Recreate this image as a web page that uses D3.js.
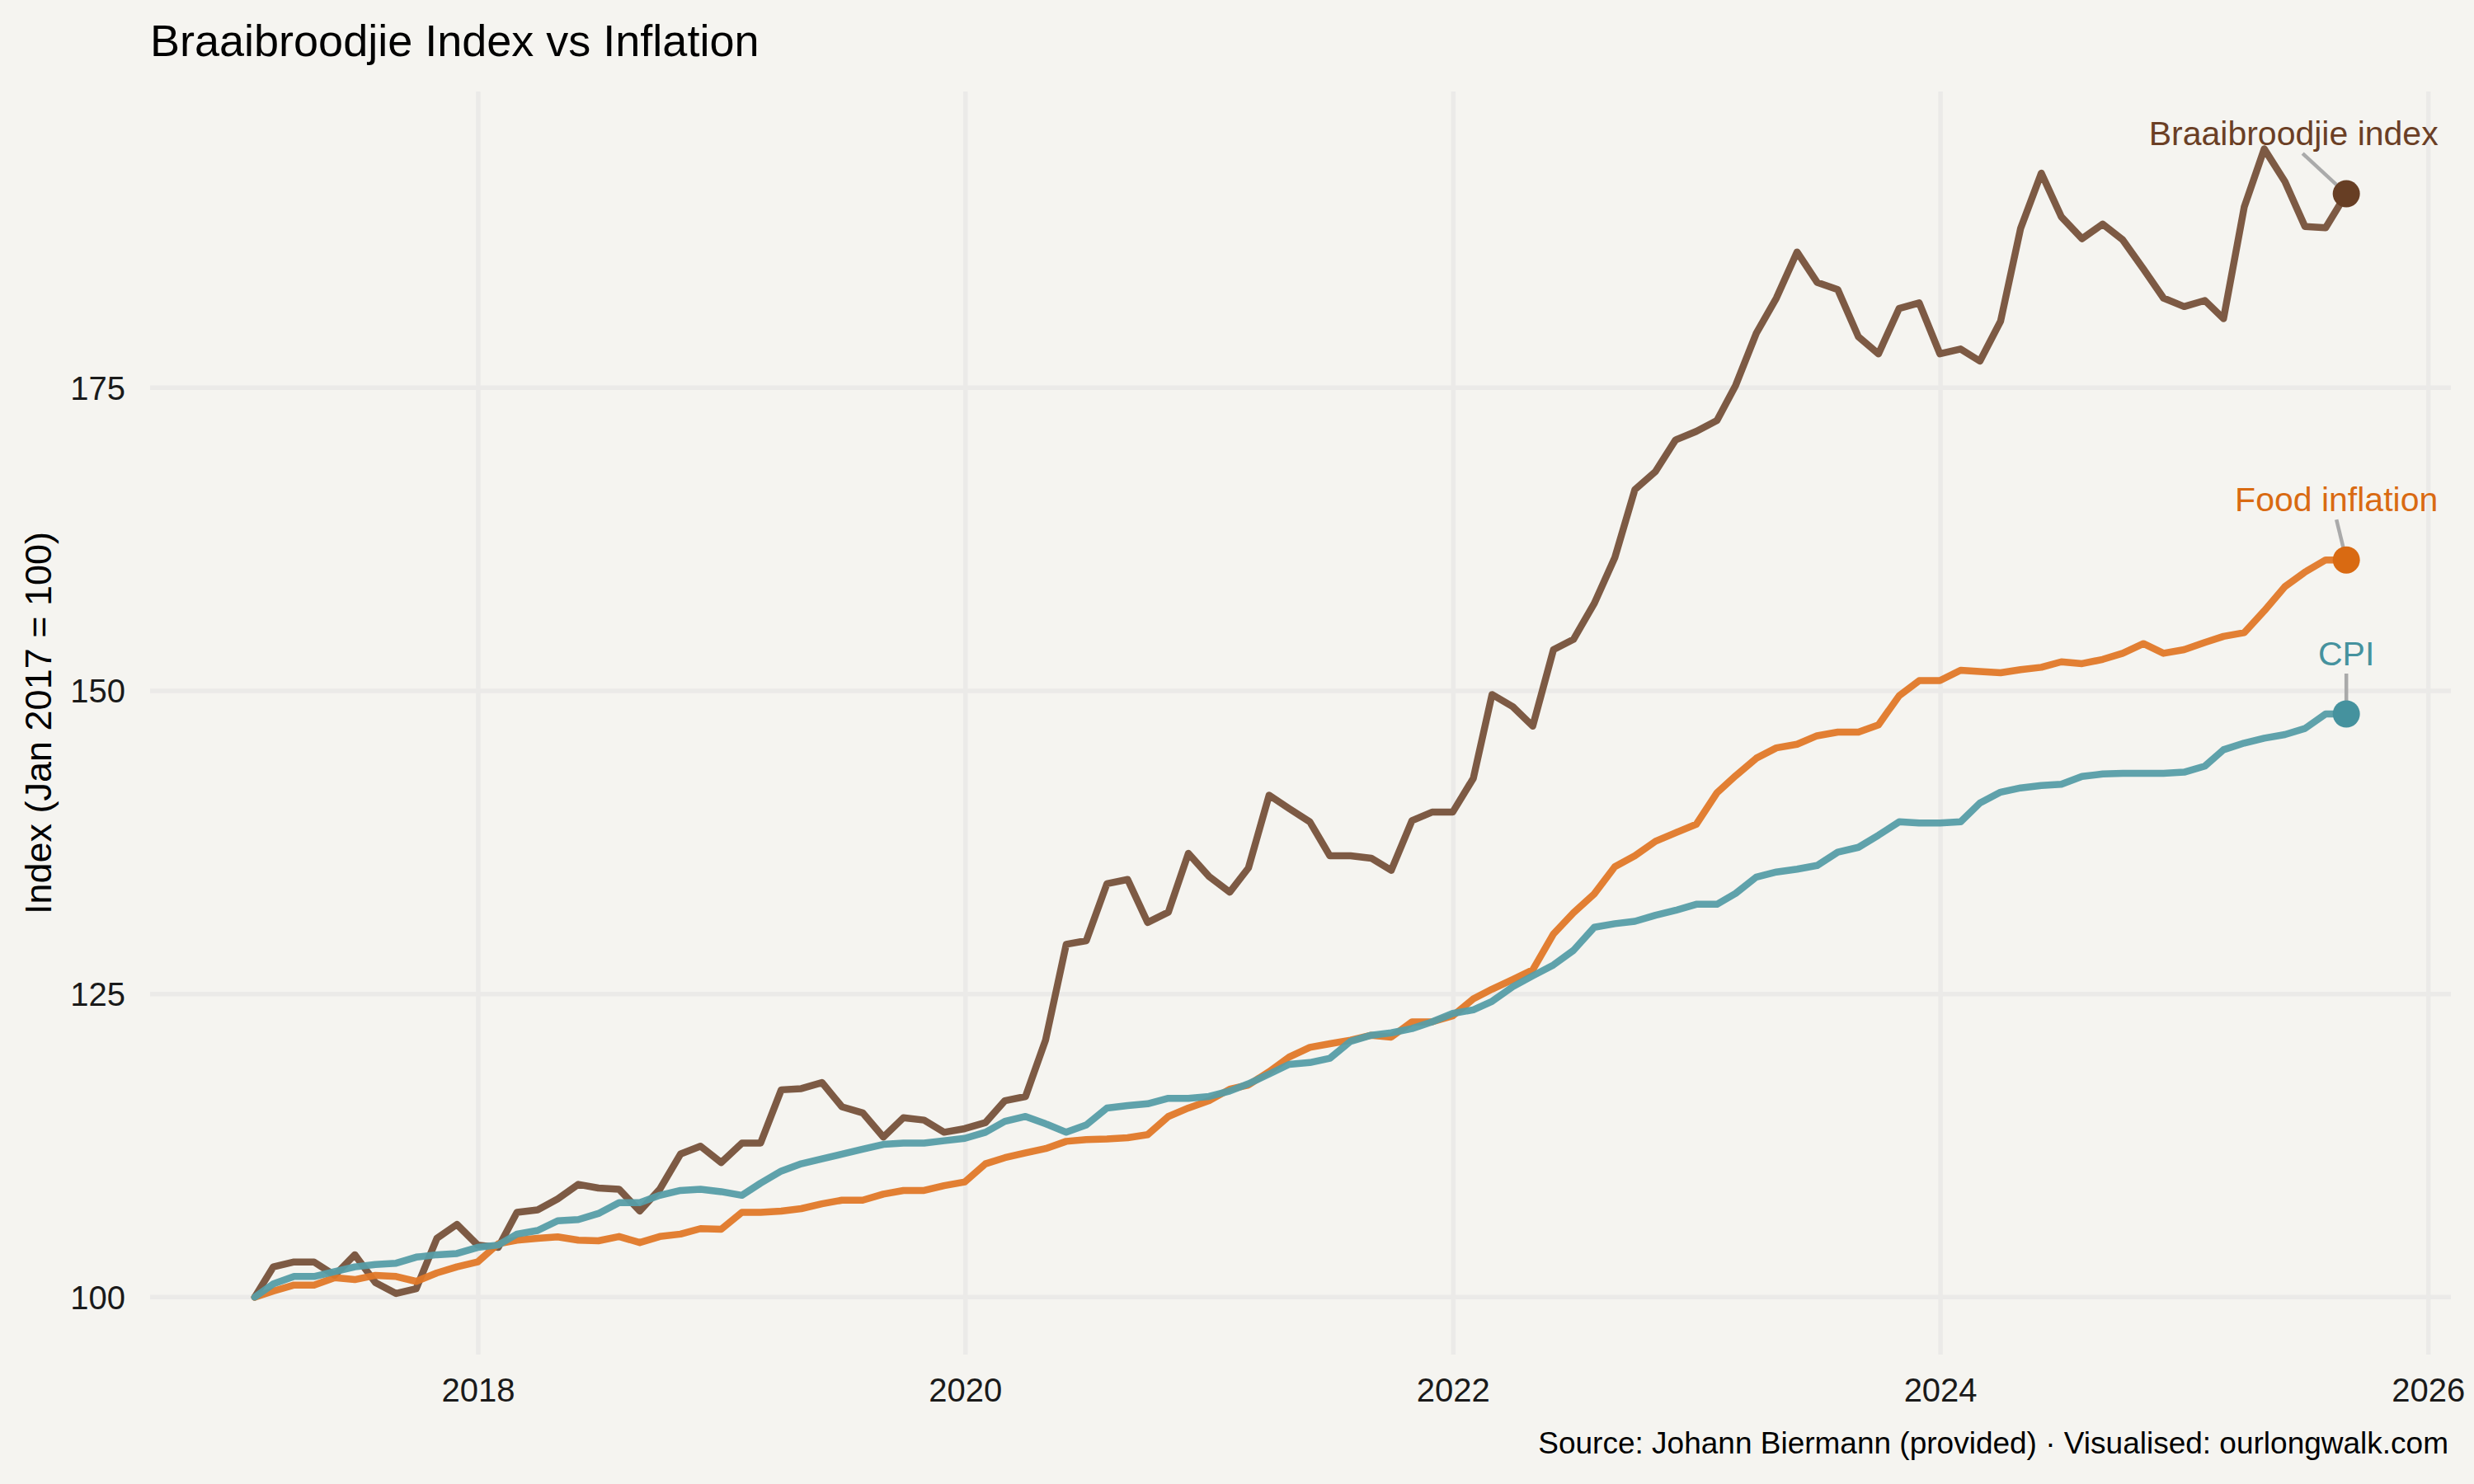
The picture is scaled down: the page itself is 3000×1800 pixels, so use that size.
<!DOCTYPE html>
<head>
  <meta charset="utf-8">
  <script src="https://d3js.org/d3.v7.min.js"></script>
  <style>
    html, body { margin: 0; padding: 0; background: #f5f4f0; }
    text { font-family: 'Liberation Sans', Arial, sans-serif; }
    .title { font-size: 54px; fill: #000; }
    .tick-label { font-size: 40px; fill: #1a1a1a; }
    .axis-title { font-size: 45px; fill: #000; }
    .caption { font-size: 37px; fill: #000; }
    .end-label { font-size: 41px; }
    .grid line { stroke: #ebeae8; stroke-width: 5.5px; }
  </style>
</head>
<body>
<div id="chart"></div>
<script>

////////////////////////////// Data //////////////////////////////

// monthly observations, Jan 2017 .. Aug 2025 (plotted at month end)
const firstMonth = new Date(2017, 0, 1);
const lastMonth = new Date(2025, 7, 1);

const braaiIndex = [
  100.0, 102.5, 102.9, 102.9, 101.8, 103.5, 101.2, 100.3, 100.7, 104.85, 106.0, 104.3,
  104.1, 107.0, 107.2, 108.1, 109.3, 109.0, 108.9, 107.1, 108.9, 111.8, 112.45, 111.1,
  112.7, 112.7, 117.1, 117.2, 117.7, 115.7, 115.2, 113.2, 114.8, 114.6, 113.6, 113.9,
  114.4, 116.2, 116.55, 121.2, 129.1, 129.4, 134.1, 134.45, 130.9, 131.75, 136.6, 134.7,
  133.4, 135.4, 141.4, 140.3, 139.2, 136.4, 136.4, 136.2, 135.2, 139.3, 140.0, 140.0,
  142.8, 149.7, 148.7, 147.1, 153.4, 154.25, 157.2, 161.0, 166.6, 168.1, 170.7, 171.4,
  172.3, 175.2, 179.5, 182.4, 186.2, 183.7, 183.1, 179.2, 177.8, 181.55, 182.0, 177.8,
  178.2, 177.2, 180.5, 188.15, 192.7, 189.1, 187.3, 188.5, 187.2, 184.8, 182.4, 181.7,
  182.2, 180.7, 189.9, 194.7, 192.0, 188.3, 188.2, 191.0
];

const foodInflation = [
  100.0, 100.5, 101.0, 101.0, 101.6, 101.45, 101.8, 101.7, 101.3, 102.0, 102.5, 102.9,
  104.4, 104.7, 104.85, 104.97, 104.7, 104.65, 105.0, 104.5, 105.0, 105.2, 105.65, 105.6,
  107.0, 107.0, 107.1, 107.3, 107.7, 108.0, 108.0, 108.5, 108.8, 108.8, 109.2, 109.5,
  111.0, 111.5, 111.9, 112.25, 112.85, 113.0, 113.05, 113.15, 113.4, 114.9, 115.6, 116.2,
  117.15, 117.5, 118.6, 119.8, 120.6, 120.9, 121.2, 121.6, 121.45, 122.7, 122.7, 123.2,
  124.6, 125.4, 126.2, 127.0, 129.95, 131.7, 133.25, 135.5, 136.4, 137.6, 138.3, 139.0,
  141.6, 143.0, 144.45, 145.3, 145.6, 146.3, 146.6, 146.6, 147.2, 149.6, 150.85, 150.85,
  151.7, 151.6, 151.5, 151.75, 151.95, 152.4, 152.25, 152.6, 153.1, 153.9, 153.1, 153.4,
  154.0, 154.5, 154.8, 156.6, 158.6, 159.8, 160.8, 160.8
];

const cpi = [
  100.0, 101.1, 101.7, 101.7, 102.1, 102.5, 102.7, 102.8, 103.3, 103.5, 103.6, 104.1,
  104.3, 105.2, 105.5, 106.3, 106.4, 106.9, 107.8, 107.8, 108.4, 108.8, 108.9, 108.7,
  108.4, 109.4, 110.4, 111.0, 111.4, 111.8, 112.2, 112.6, 112.7, 112.7, 112.9, 113.1,
  113.6, 114.5, 114.9, 114.3, 113.6, 114.2, 115.6, 115.8, 115.95, 116.4, 116.4, 116.55,
  117.0, 117.6, 118.4, 119.2, 119.35, 119.7, 121.1, 121.6, 121.8, 122.15, 122.7, 123.4,
  123.7, 124.4, 125.6, 126.5, 127.4, 128.6, 130.5, 130.8, 131.0, 131.5, 131.9, 132.4,
  132.4, 133.3, 134.65, 135.06, 135.3, 135.6, 136.7, 137.1, 138.1, 139.2, 139.1, 139.1,
  139.2, 140.75, 141.65, 142.0, 142.2, 142.3, 142.95, 143.15, 143.2, 143.2, 143.2, 143.3,
  143.8, 145.15, 145.7, 146.1, 146.4, 146.9, 148.1, 148.1
];

const seriesNames = ["Braaibroodjie index", "Food inflation", "CPI"];
const yTicks = [100, 125, 150, 175];
const xTickYears = [2018, 2020, 2022, 2024, 2026];

////////////////////////////// Setup //////////////////////////////

const W = 3000, H = 1800;
const panel = { left: 182, right: 2972, top: 111, bottom: 1643 };

const dates = d3.timeMonth.range(firstMonth, d3.timeMonth.offset(lastMonth, 1))
  .map(d => new Date(d.getFullYear(), d.getMonth() + 1, 0));

const series = [
  { name: seriesNames[0], values: braaiIndex,   line: "#76513a", dot: "#673e24", label: "#6b3f25" },
  { name: seriesNames[1], values: foodInflation, line: "#e07828", dot: "#d96a12", label: "#d96a12" },
  { name: seriesNames[2], values: cpi,          line: "#569da7", dot: "#45929e", label: "#45929e" }
];

// ggplot-like 5% expansion
const tExt = d3.extent(dates);
const tPad = (tExt[1] - tExt[0]) * 0.05;
const allVals = braaiIndex.concat(foodInflation, cpi);
const vExt = d3.extent(allVals);
const vPad = (vExt[1] - vExt[0]) * 0.05;

const x = d3.scaleTime()
  .domain([new Date(+tExt[0] - tPad), new Date(+tExt[1] + tPad)])
  .range([panel.left, panel.right]);

const y = d3.scaleLinear()
  .domain([vExt[0] - vPad, vExt[1] + vPad])
  .range([panel.bottom, panel.top]);

const svg = d3.select("#chart").append("svg")
  .attr("width", W)
  .attr("height", H);

svg.append("rect").attr("width", W).attr("height", H).attr("fill", "#f5f4f0");

////////////////////////////// Grid //////////////////////////////

const grid = svg.append("g").attr("class", "grid");

grid.selectAll(".hgrid")
  .data(yTicks)
  .enter().append("line")
  .attr("x1", panel.left).attr("x2", panel.right)
  .attr("y1", d => y(d)).attr("y2", d => y(d));

grid.selectAll(".vgrid")
  .data(xTickYears)
  .enter().append("line")
  .attr("x1", d => x(new Date(d, 0, 1))).attr("x2", d => x(new Date(d, 0, 1)))
  .attr("y1", panel.top).attr("y2", panel.bottom);

svg.selectAll(".ylab")
  .data(yTicks)
  .enter().append("text")
  .attr("class", "tick-label")
  .attr("x", 152)
  .attr("y", d => y(d))
  .attr("dy", "0.36em")
  .attr("text-anchor", "end")
  .text(d => d);

svg.selectAll(".xlab")
  .data(xTickYears)
  .enter().append("text")
  .attr("class", "tick-label")
  .attr("x", d => x(new Date(d, 0, 1)))
  .attr("y", 1700)
  .attr("text-anchor", "middle")
  .text(d => d);

////////////////////////////// Lines //////////////////////////////

const line = d3.line()
  .x((d, i) => x(dates[i]))
  .y(d => y(d));

svg.selectAll(".series")
  .data(series)
  .enter().append("path")
  .attr("d", d => line(d.values))
  .attr("fill", "none")
  .attr("stroke", d => d.line)
  .attr("stroke-width", 8.5)
  .attr("stroke-opacity", 0.95)
  .attr("stroke-linejoin", "round")
  .attr("stroke-linecap", "round");

// end labels (repel-style offsets from the last point)
const labelOffsets = [
  { tx: -64, ty: -59, sx: -53, sy: -49 },
  { tx: -12, ty: -59, sx: -12, sy: -49 },
  { tx: 0,   ty: -59, sx: 0,   sy: -49 }
];

const lastDate = dates[dates.length - 1];

series.forEach((s, k) => {
  const px = x(lastDate), py = y(s.values[s.values.length - 1]);
  const o = labelOffsets[k];
  svg.append("line")
    .attr("x1", px + o.sx).attr("y1", py + o.sy)
    .attr("x2", px).attr("y2", py)
    .attr("stroke", "#aaaaaa")
    .attr("stroke-width", 4.5);
  svg.append("circle")
    .attr("cx", px).attr("cy", py)
    .attr("r", 16.5)
    .attr("fill", s.dot);
  svg.append("text")
    .attr("class", "end-label")
    .attr("x", px + o.tx).attr("y", py + o.ty)
    .attr("text-anchor", "middle")
    .attr("fill", s.label)
    .text(s.name);
});

////////////////////////////// Titles //////////////////////////////

svg.append("text")
  .attr("class", "title")
  .attr("x", 182).attr("y", 68)
  .text("Braaibroodjie Index vs Inflation");

svg.append("text")
  .attr("class", "axis-title")
  .attr("transform", "translate(62," + ((panel.top + panel.bottom) / 2) + ") rotate(-90)")
  .attr("text-anchor", "middle")
  .text("Index (Jan 2017 = 100)");

svg.append("text")
  .attr("class", "caption")
  .attr("x", 2969).attr("y", 1763)
  .attr("text-anchor", "end")
  .text("Source: Johann Biermann (provided) · Visualised: ourlongwalk.com");

</script>
</body>
